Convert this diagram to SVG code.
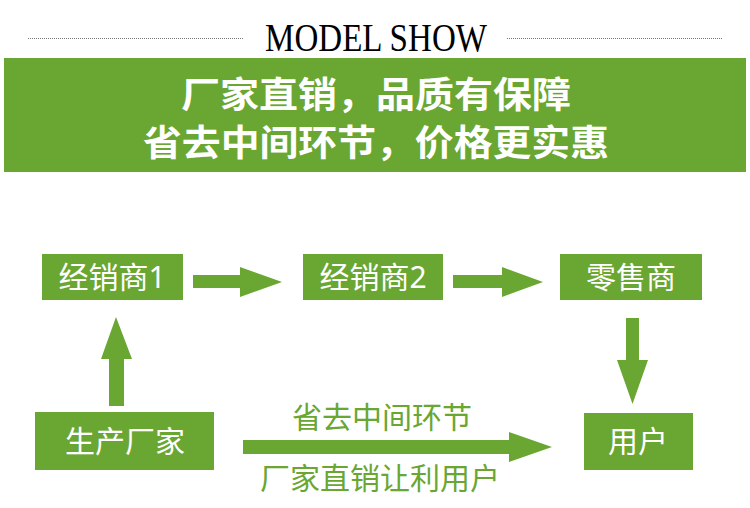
<svg xmlns="http://www.w3.org/2000/svg" width="750" height="508" viewBox="0 0 750 508">
<style>
.box{fill:#6aa632}
.arr{fill:#6aa632}
.bt{font-family:"Noto Sans","Noto Sans CJK SC",sans-serif;font-size:30px;fill:#ffffff;text-anchor:middle}
.gt{font-family:"Noto Sans CJK SC","Noto Sans",sans-serif;font-size:30px;fill:#6aa632;text-anchor:middle}
.ban{font-family:"Noto Sans CJK SC","Noto Sans",sans-serif;font-size:36px;font-weight:700;fill:#ffffff;text-anchor:middle}
.rule{stroke:#777;stroke-width:1;stroke-dasharray:1 1}
</style>
<rect width="750" height="508" fill="#ffffff"/>
<g id="title">
<line class="rule" x1="28" y1="38.5" x2="243" y2="38.5"/>
<line class="rule" x1="507" y1="38.5" x2="722" y2="38.5"/>
<text x="376" y="51" font-family="'Liberation Serif',serif" font-size="39" fill="#000" text-anchor="middle" textLength="222" lengthAdjust="spacingAndGlyphs">MODEL SHOW</text>
</g>
<g id="banner">
<rect x="4" y="58" width="742" height="114" fill="#6aa632"/>
<text class="ban" x="376" y="108" textLength="390" lengthAdjust="spacingAndGlyphs">厂家直销，品质有保障</text>
<text class="ban" x="376" y="156" textLength="466" lengthAdjust="spacingAndGlyphs">省去中间环节，价格更实惠</text>
</g>
<g id="connectors">
<polygon class="arr" points="193,275 240,275 240,267 282,282 240,297 240,288 193,288"/>
<polygon class="arr" points="453,275 502,275 502,267 543,282 502,297 502,288 453,288"/>
<polygon class="arr" points="626,318 639,318 639,360 648,360 632.5,404 617,360 626,360"/>
<polygon class="arr" points="109,406 124,406 124,359 132,359 116,317 101,359 109,359"/>
<polygon class="arr" points="243,440 509,440 509,432 552,447 509,462 509,454 243,454"/>
</g>
<g id="label-top"><text class="gt" x="382" y="428">省去中间环节</text></g>
<g id="label-bottom"><text class="gt" x="380" y="489">厂家直销让利用户</text></g>
<g id="n-dealer1"><rect class="box" x="42" y="254" width="141" height="46"/><text class="bt" x="112" y="288">经销商1</text></g>
<g id="n-dealer2"><rect class="box" x="303" y="254" width="140" height="46"/><text class="bt" x="373" y="288">经销商2</text></g>
<g id="n-retailer"><rect class="box" x="560" y="254" width="142" height="46"/><text class="bt" x="631" y="288">零售商</text></g>
<g id="n-factory"><rect class="box" x="35" y="412" width="179" height="58"/><text class="bt" x="125" y="452">生产厂家</text></g>
<g id="n-user"><rect class="box" x="584" y="413" width="109" height="57"/><text class="bt" x="638" y="452">用户</text></g>
</svg>
